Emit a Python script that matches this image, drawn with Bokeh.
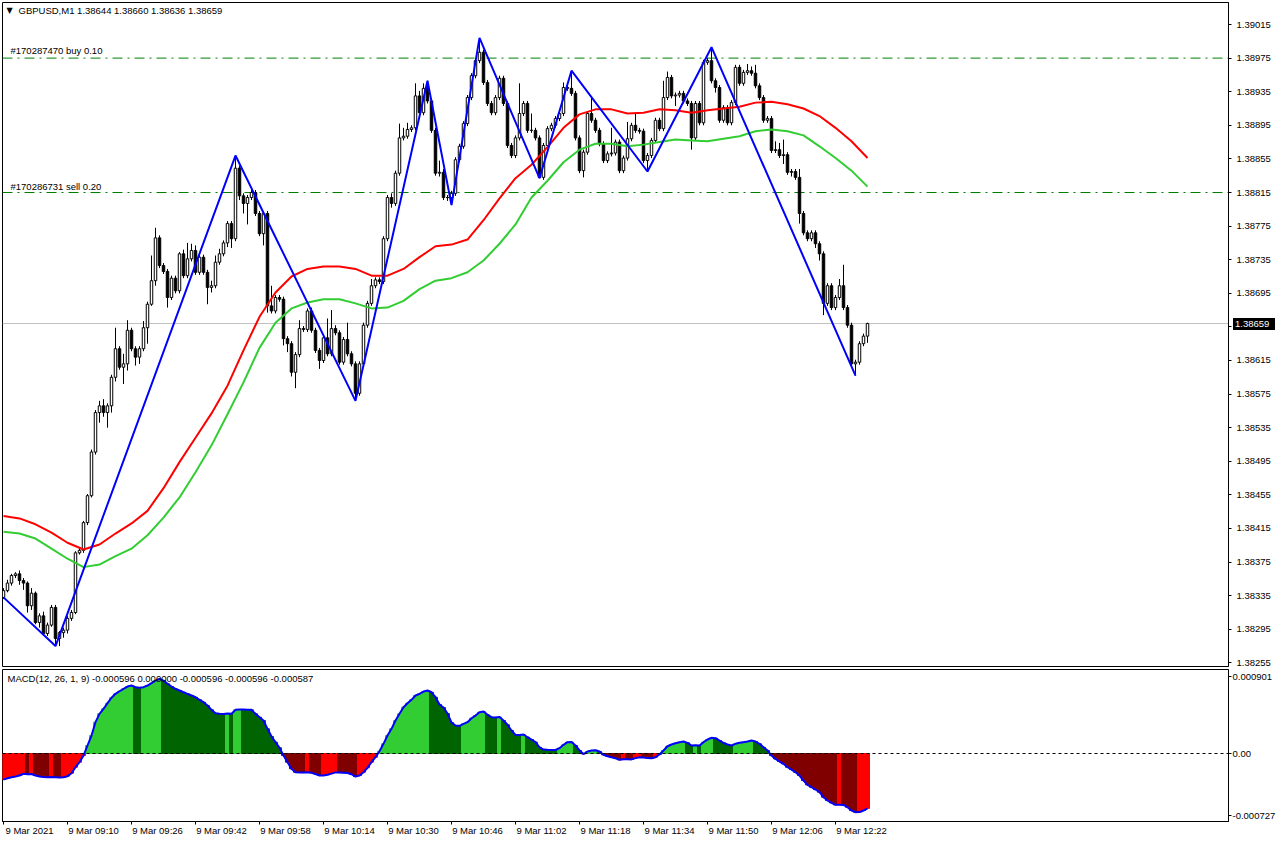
from bokeh.plotting import figure
from bokeh.models import (Range1d, FixedTicker, PrintfTickFormatter, Span, Label,
                          ColumnDataSource, Div)
from bokeh.layouts import column
from bokeh.embed import file_html
from bokeh.resources import INLINE

FONT = "Liberation Sans"
FS = "9.5px"

# ---------------- data ----------------
title_text = "GBPUSD,M1  1.38644 1.38660 1.38636 1.38659"
macd_text = "MACD(12, 26, 1, 9) -0.000596 0.000000 -0.000596 -0.000596 -0.000587"
buy_text = "#170287470 buy 0.10"
sell_text = "#170286731 sell 0.20"
buy_price = 1.38975
sell_price = 1.38815
last_price = 1.38659

price_ticks = [1.39015, 1.38975, 1.38935, 1.38895, 1.38855, 1.38815, 1.38775, 1.38735,
               1.38695, 1.38655, 1.38615, 1.38575, 1.38535, 1.38495, 1.38455, 1.38415,
               1.38375, 1.38335, 1.38295, 1.38255]

time_tick_bars = [0, 16, 32, 48, 64, 80, 96, 112, 128, 144, 160, 176, 192, 208]
time_tick_labels = ["9 Mar 2021", "9 Mar 09:10", "9 Mar 09:26", "9 Mar 09:42", "9 Mar 09:58",
                    "9 Mar 10:14", "9 Mar 10:30", "9 Mar 10:46", "9 Mar 11:02", "9 Mar 11:18",
                    "9 Mar 11:34", "9 Mar 11:50", "9 Mar 12:06", "9 Mar 12:22"]

first_open = 1.38333
close = [
    1.38341, 1.38350, 1.38359, 1.38361, 1.38353, 1.38350, 1.38323, 1.38338, 1.38303, 1.38311,
    1.38290, 1.38300, 1.38321, 1.38284, 1.38291, 1.38294, 1.38308, 1.38315, 1.38386, 1.38389,
    1.38422, 1.38454, 1.38506, 1.38553, 1.38561, 1.38553, 1.38561, 1.38595, 1.38629, 1.38607,
    1.38611, 1.38651, 1.38629, 1.38619, 1.38629, 1.38654, 1.38682, 1.38710, 1.38761, 1.38728,
    1.38721, 1.38690, 1.38713, 1.38698, 1.38742, 1.38716, 1.38736, 1.38746, 1.38720, 1.38738,
    1.38720, 1.38702, 1.38704, 1.38732, 1.38742, 1.38755, 1.38778, 1.38760, 1.38844, 1.38811,
    1.38802, 1.38809, 1.38815, 1.38790, 1.38766, 1.38790, 1.38680, 1.38674, 1.38690, 1.38688,
    1.38641, 1.38635, 1.38601, 1.38622, 1.38653, 1.38652, 1.38674, 1.38651, 1.38627, 1.38615,
    1.38642, 1.38623, 1.38653, 1.38648, 1.38613, 1.38640, 1.38623, 1.38611, 1.38576, 1.38611,
    1.38657, 1.38683, 1.38704, 1.38711, 1.38709, 1.38760, 1.38809, 1.38802, 1.38838, 1.38880,
    1.38882, 1.38890, 1.38892, 1.38930, 1.38910, 1.38939, 1.38924, 1.38889, 1.38838, 1.38839,
    1.38809, 1.38809, 1.38814, 1.38854, 1.38870, 1.38897, 1.38928, 1.38954, 1.38972, 1.38982,
    1.38946, 1.38921, 1.38910, 1.38928, 1.38951, 1.38921, 1.38871, 1.38859, 1.38880, 1.38909,
    1.38921, 1.38889, 1.38889, 1.38880, 1.38833, 1.38871, 1.38891, 1.38895, 1.38903, 1.38909,
    1.38940, 1.38939, 1.38933, 1.38880, 1.38841, 1.38863, 1.38909, 1.38901, 1.38889, 1.38873,
    1.38853, 1.38861, 1.38862, 1.38875, 1.38841, 1.38856, 1.38879, 1.38895, 1.38889, 1.38888,
    1.38853, 1.38859, 1.38877, 1.38901, 1.38891, 1.38928, 1.38952, 1.38930, 1.38931, 1.38933,
    1.38924, 1.38921, 1.38880, 1.38921, 1.38898, 1.38970, 1.38972, 1.38948, 1.38940, 1.38901,
    1.38916, 1.38898, 1.38922, 1.38964, 1.38945, 1.38958, 1.38960, 1.38957, 1.38942, 1.38928,
    1.38901, 1.38903, 1.38865, 1.38866, 1.38859, 1.38860, 1.38839, 1.38840, 1.38833, 1.38790,
    1.38767, 1.38760, 1.38767, 1.38754, 1.38742, 1.38683, 1.38704, 1.38678, 1.38690, 1.38704,
    1.38678, 1.38657, 1.38611, 1.38613, 1.38635, 1.38644, 1.38659]

# upper / lower wick lengths in points (0.00001)
wick_up = [
    3, 4, 2, 2, 4, 3, 2, 6, 2, 3,   5, 3, 3, 3, 2, 3, 3, 3, 2, 4,
    2, 2, 3, 3, 6, 8, 3, 3, 25, 3,  12, 12, 3, 3, 3, 8, 3, 30, 12, 3,
    3, 3, 3, 3, 2, 5, 19, 8, 6, 3,  3, 3, 6, 8, 6, 3, 3, 3, 15, 3,
    3, 3, 3, 3, 3, 3, 3, 24, 3, 3,  3, 3, 3, 3, 10, 3, 3, 4, 3, 3,
    3, 23, 22, 4, 3, 3, 20, 3, 3, 3,  3, 3, 8, 3, 3, 3, 3, 5, 3, 17,
    10, 8, 3, 15, 6, 6, 9, 3, 3, 14,  4, 3, 3, 3, 3, 3, 3, 3, 3, 17,
    3, 3, 3, 3, 3, 3, 3, 3, 3, 36,  3, 3, 20, 3, 3, 3, 3, 3, 3, 3,
    6, 3, 21, 3, 3, 3, 3, 20, 3, 3,  3, 3, 30, 3, 3, 3, 20, 3, 15, 3,
    3, 3, 3, 3, 3, 20, 7, 3, 3, 3,  3, 3, 3, 3, 3, 3, 3, 16, 3, 3,
    3, 3, 3, 3, 3, 3, 8, 5, 10, 3,  3, 3, 3, 10, 8, 18, 3, 3, 3, 10,
    3, 3, 3, 3, 3, 3, 3, 3, 3, 8,  25, 3, 3, 3, 3, 3, 1]
wick_dn = [
    2, 2, 3, 3, 5, 8, 8, 5, 2, 6,   2, 3, 2, 9, 9, 6, 4, 3, 2, 2,
    3, 3, 2, 3, 12, 5, 18, 8, 5, 3,  20, 8, 3, 10, 8, 3, 19, 2, 6, 3,
    3, 12, 3, 3, 3, 3, 3, 3, 3, 3,  3, 20, 6, 3, 3, 3, 5, 11, 3, 5,
    12, 25, 3, 3, 3, 14, 8, 3, 3, 3,  8, 10, 5, 19, 3, 3, 3, 3, 3, 10,
    3, 3, 3, 3, 3, 3, 3, 3, 9, 3,  3, 3, 3, 3, 3, 3, 3, 5, 3, 3,
    3, 3, 3, 3, 3, 3, 3, 3, 3, 4,  3, 4, 9, 3, 3, 3, 3, 3, 3, 3,
    3, 3, 3, 3, 3, 3, 3, 3, 3, 3,  3, 3, 3, 3, 1, 3, 3, 3, 3, 3,
    3, 3, 3, 3, 3, 8, 3, 3, 3, 3,  3, 3, 3, 3, 3, 3, 3, 3, 3, 3,
    3, 13, 3, 3, 3, 3, 3, 3, 12, 3,  3, 3, 14, 3, 3, 3, 3, 3, 6, 3,
    3, 3, 3, 3, 3, 3, 3, 3, 3, 3,  3, 3, 3, 3, 3, 10, 3, 5, 3, 12,
    3, 3, 3, 5, 8, 14, 3, 3, 3, 3,  3, 3, 3, 14, 3, 3, 8]

# moving averages, read every 4 bars
ma_bars = list(range(0, 217, 4))
ma_red = [1.38430, 1.38427, 1.38420, 1.38410, 1.38398, 1.38390, 1.38396, 1.38409, 1.38421, 1.38436,
          1.38463, 1.38494, 1.38523, 1.38552, 1.38585, 1.38627, 1.38667, 1.38696, 1.38715, 1.38724,
          1.38727, 1.38727, 1.38724, 1.38716, 1.38716, 1.38724, 1.38738, 1.38751, 1.38753, 1.38759,
          1.38782, 1.38808, 1.38832, 1.38848, 1.38869, 1.38892, 1.38908, 1.38914, 1.38914, 1.38909,
          1.38910, 1.38914, 1.38913, 1.38910, 1.38913, 1.38915, 1.38917, 1.38922, 1.38923, 1.38920,
          1.38915, 1.38906, 1.38892, 1.38876, 1.38856]
ma_green = [1.38411, 1.38409, 1.38403, 1.38391, 1.38379, 1.38369, 1.38372, 1.38382, 1.38391, 1.38407,
            1.38428, 1.38452, 1.38482, 1.38514, 1.38551, 1.38589, 1.38630, 1.38660, 1.38677, 1.38684,
            1.38688, 1.38688, 1.38683, 1.38677, 1.38678, 1.38686, 1.38700, 1.38710, 1.38713, 1.38720,
            1.38734, 1.38754, 1.38777, 1.38809, 1.38829, 1.38851, 1.38866, 1.38873, 1.38873, 1.38870,
            1.38872, 1.38875, 1.38878, 1.38877, 1.38876, 1.38879, 1.38882, 1.38888, 1.38890, 1.38888,
            1.38883, 1.38870, 1.38856, 1.38841, 1.38822]

# zigzag pivots
zz_bars = [0, 13, 58, 88, 106, 112, 119, 134, 142, 161, 177, 213]
zz_prices = [1.38333, 1.38275, 1.38859, 1.38567, 1.38948, 1.38800, 1.38999, 1.38832,
             1.38960, 1.38840, 1.38988, 1.38597]

# MACD main values, in millionths
macd_1e6 = [
    -282, -268, -257, -250, -239, -220, -224, -222, -239, -250,
    -255, -258, -256, -258, -260, -257, -246, -214, -149, -94,
    -22, 87, 195, 340, 431, 485, 546, 605, 648, 676,
    702, 727, 738, 720, 713, 720, 738, 763, 792, 811,
    792, 757, 727, 702, 684, 665, 648, 630, 611, 583,
    557, 521, 474, 437, 431, 429, 434, 431, 474, 478,
    478, 476, 474, 431, 394, 358, 268, 185, 123, 62,
    -22, -94, -166, -203, -205, -207, -203, -210, -222, -239,
    -238, -230, -218, -205, -207, -209, -212, -225, -250, -239,
    -203, -155, -94, -40, 25, 105, 195, 268, 358, 431,
    503, 546, 583, 630, 648, 673, 684, 665, 611, 532,
    499, 434, 337, 304, 301, 322, 340, 383, 412, 448,
    456, 420, 394, 392, 396, 358, 312, 250, 203, 201,
    206, 177, 152, 123, 68, 43, 40, 39, 38, 58,
    94, 123, 125, 87, 33, -5, 22, 33, 35, 22,
    -14, -29, -40, -51, -68, -62, -63, -64, -50, -40,
    -44, -48, -52, -40, -10, 33, 79, 98, 112, 123,
    130, 116, 87, 89, 87, 123, 152, 170, 166, 141,
    116, 98, 87, 105, 116, 123, 130, 141, 130, 105,
    68, 33, -22, -58, -87, -112, -149, -174, -203, -239,
    -293, -340, -366, -391, -420, -474, -510, -535, -557, -556,
    -558, -583, -619, -637, -636, -619, -596]
macd_top_label, macd_bottom_label = "0.000901", "-0.000727"

# ---------------- derived ----------------
n = len(close)
bars = list(range(n))
opens = [first_open] + close[:-1]
tops = [max(o, c) for o, c in zip(opens, close)]
bots = [min(o, c) for o, c in zip(opens, close)]
highs = [t + u * 1e-5 for t, u in zip(tops, wick_up)]
lows = [b - d * 1e-5 for b, d in zip(bots, wick_dn)]
fills = ["black" if c < o else "white" for o, c in zip(opens, close)]
macd = [v * 1e-6 for v in macd_1e6]

hist_colors = []
for i, v in enumerate(macd):
    prev = macd[i - 1] if i > 0 else v - 1e-9
    up = v > prev
    if v >= 0:
        hist_colors.append("#32CD32" if up else "#006400")
    else:
        hist_colors.append("#FF0000" if up else "#800000")

# ---------------- layout ----------------
FRAME_W = 1226
MAIN_H = 664
Y0, Y1 = 1.382507, 1.390412
xr = Range1d(-0.25, 306.25)

p = figure(frame_width=FRAME_W, frame_height=MAIN_H, x_range=xr,
           y_range=Range1d(Y0, Y1), output_backend="svg",
           toolbar_location=None, y_axis_location="right", x_axis_location=None,
           min_border_left=2, min_border_right=48, min_border_top=2, min_border_bottom=1,
           background_fill_color="white", border_fill_color="white")
p.grid.visible = False
p.outline_line_color = "black"
p.outline_line_width = 1

ax = p.yaxis[0]
ax.ticker = FixedTicker(ticks=price_ticks)
ax.formatter = PrintfTickFormatter(format="%.5f")
ax.major_tick_out = 3
ax.major_tick_in = 0
ax.minor_tick_out = 0
ax.minor_tick_in = 0
ax.major_label_standoff = 5
ax.axis_line_color = "black"
ax.major_tick_line_color = "black"
ax.major_label_text_font = FONT
ax.major_label_text_font_size = FS
ax.major_label_text_color = "black"

# reference lines
p.add_layout(Span(location=last_price, dimension="width", line_color="#C0C0C0",
                  line_width=1, level="underlay"))
for lvl in (buy_price, sell_price):
    p.add_layout(Span(location=lvl, dimension="width", line_color="#008000",
                      line_width=1, line_dash="10 5 2 5", level="underlay"))

src = ColumnDataSource(dict(x=bars, h=highs, l=lows, t=tops, b=bots, f=fills))
p.segment(x0="x", y0="l", x1="x", y1="h", source=src, line_color="black", line_width=1)
p.vbar(x="x", width=0.62, top="t", bottom="b", fill_color="f", line_color="black",
       line_width=1, source=src)

p.line(ma_bars, ma_red, line_color="#FF0000", line_width=2)
p.line(ma_bars, ma_green, line_color="#32CD32", line_width=2)
p.line(zz_bars, zz_prices, line_color="#0000FF", line_width=2)

p.add_layout(Label(x=1.5, y=1.390317, text="▼", text_font="DejaVu Sans",
                   text_font_size="8px", text_align="center", text_baseline="middle",
                   text_color="black"))
p.add_layout(Label(x=3.75, y=1.390317, text=title_text, text_font=FONT,
                   text_font_size=FS, text_baseline="middle", text_color="black"))
p.add_layout(Label(x=1.75, y=1.38984, text=buy_text, text_font=FONT,
                   text_font_size=FS, text_baseline="middle", text_color="black"))
p.add_layout(Label(x=1.75, y=1.388221, text=sell_text, text_font=FONT,
                   text_font_size=FS, text_baseline="middle", text_color="black"))

# ---------------- MACD panel ----------------
p2 = figure(frame_width=FRAME_W, frame_height=152, x_range=xr,
            y_range=Range1d(-0.000738, 0.000912), output_backend="svg",
            toolbar_location=None, y_axis_location="right", x_axis_location="below",
            min_border_left=2, min_border_right=48, min_border_top=2, min_border_bottom=20,
            background_fill_color="white", border_fill_color="white")
p2.grid.visible = False
p2.outline_line_color = "black"
p2.outline_line_width = 1

p2.vbar(x=bars, width=1.0, top=macd, bottom=0, fill_color=hist_colors,
        line_color=hist_colors, line_width=1)
p2.line(bars, macd, line_color="#0000FF", line_width=2)
p2.add_layout(Span(location=0, dimension="width", line_color="black", line_width=1,
                   line_dash="3 3"))
p2.add_layout(Label(x=1.0, y=0.000814, text=macd_text, text_font=FONT, text_font_size=FS,
                    text_baseline="middle", text_color="black"))

ay = p2.yaxis[0]
ytk = [0.000836, 0.0, -0.000673]
ay.ticker = FixedTicker(ticks=ytk)
ay.major_label_overrides = {0.000836: macd_top_label, 0.0: "0.00", -0.000673: macd_bottom_label}
ay.major_tick_out = 3
ay.major_tick_in = 0
ay.minor_tick_out = 0
ay.minor_tick_in = 0
ay.major_label_standoff = 1
ay.axis_line_color = "black"
ay.major_label_text_font = FONT
ay.major_label_text_font_size = FS
ay.major_label_text_color = "black"

axx = p2.xaxis[0]
label_pos = [b + 6.5 for b in time_tick_bars]
axx.ticker = FixedTicker(ticks=label_pos, minor_ticks=time_tick_bars)
axx.major_label_overrides = {pos: lab for pos, lab in zip(label_pos, time_tick_labels)}
axx.major_tick_out = 0
axx.major_tick_in = 0
axx.minor_tick_out = 3
axx.minor_tick_in = 0
axx.minor_tick_line_color = "black"
axx.major_label_standoff = 0
axx.axis_line_color = "black"
axx.major_label_text_font = FONT
axx.major_label_text_font_size = FS
axx.major_label_text_color = "black"

# current-price tag on the price scale (placed from the main y scale)
tag_center = 2 + (Y1 - last_price) / (Y1 - Y0) * MAIN_H
tag = Div(text="%.5f" % last_price, width=42, height=12,
          styles={"position": "absolute", "left": "%dpx" % (FRAME_W + 2),
                  "top": "%dpx" % round(tag_center - 10),
                  "background-color": "black", "color": "white",
                  "font-family": FONT, "font-size": FS, "line-height": "12px",
                  "padding-left": "2px", "z-index": "10"})

layout = column(p, p2, tag, spacing=0)
open("out.html", "w").write(file_html(layout, INLINE))
